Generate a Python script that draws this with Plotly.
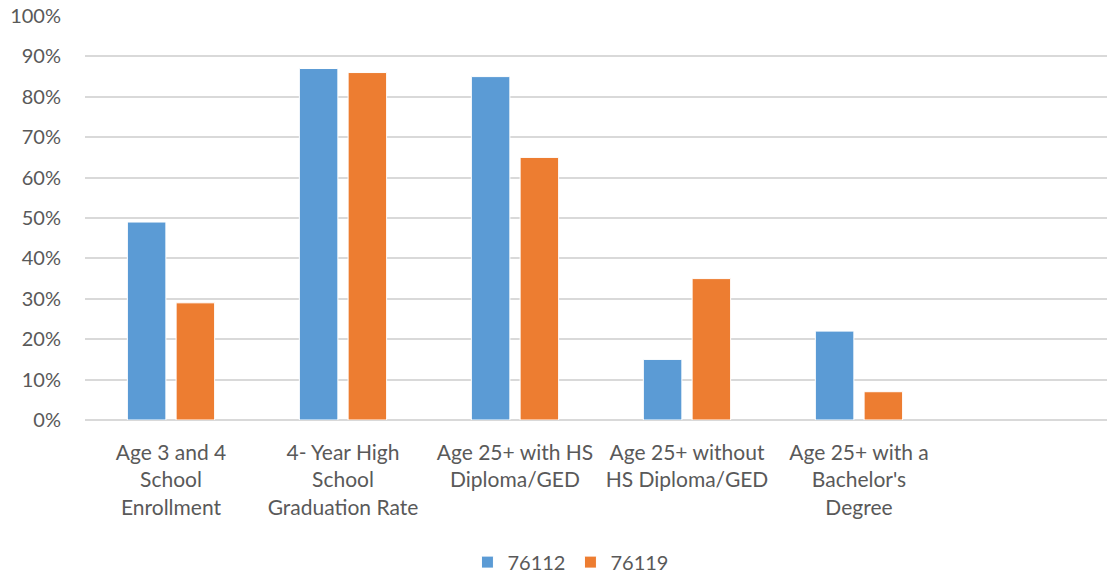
import plotly.graph_objects as go

categories = ["Age 3 and 4<br>School<br>Enrollment",
              "4- Year High<br>School<br>Graduation Rate",
              "Age 25+ with HS<br>Diploma/GED",
              "Age 25+ without<br>HS Diploma/GED",
              "Age 25+ with a<br>Bachelor's<br>Degree"]
s76112 = [0.49, 0.87, 0.85, 0.15, 0.22]
s76119 = [0.29, 0.86, 0.65, 0.35, 0.07]
ytick_vals = [0, 0.1, 0.2, 0.3, 0.4, 0.5, 0.6, 0.7, 0.8, 0.9, 1.0]
ytick_text = ["0%", "10%", "20%", "30%", "40%", "50%", "60%", "70%", "80%", "90%", "100%"]

FONT = "Lato"
GRAY = "#595959"

fig = go.Figure()
fig.add_trace(go.Bar(name="76112", x=list(range(len(categories))), y=s76112,
                     marker=dict(color="#5B9BD5", line=dict(color="#ffffff", width=1))))
fig.add_trace(go.Bar(name="76119", x=list(range(len(categories))), y=s76119,
                     marker=dict(color="#ED7D31", line=dict(color="#ffffff", width=1))))

fig.update_layout(
    width=1107, height=573,
    margin=dict(l=85, r=0, t=16, b=153, autoexpand=False),
    paper_bgcolor="white", plot_bgcolor="white",
    barmode="group", bargap=0.433, bargroupgap=0.21,
    font=dict(family=FONT, size=20, color=GRAY),
    showlegend=True,
    legend=dict(orientation="h", x=0.475, xanchor="center",
                yref="container", y=0.019, yanchor="middle",
                font=dict(family=FONT, size=20, color=GRAY), itemwidth=30,
                traceorder="normal"),
    xaxis=dict(range=[-0.5, 5.442], tickmode="array",
               tickvals=list(range(len(categories))), ticktext=categories,
               showgrid=False, zeroline=False, showline=False, ticks="",
               automargin=False,
               tickfont=dict(family=FONT, size=21, color=GRAY), ticklabelstandoff=18),
    yaxis=dict(range=[0, 1.0], tickvals=ytick_vals, ticktext=ytick_text,
               showgrid=True, gridcolor="#d9d9d9", gridwidth=1.5,
               zeroline=True, zerolinecolor="#d9d9d9", zerolinewidth=1.5,
               showline=False, ticks="", ticklabelstandoff=23, automargin=False,
               tickfont=dict(family=FONT, size=20, color=GRAY)),
)

fig.write_html("out.html", config={"displayModeBar": False},
               post_script="document.body.style.margin='0';document.body.style.padding='0';")
